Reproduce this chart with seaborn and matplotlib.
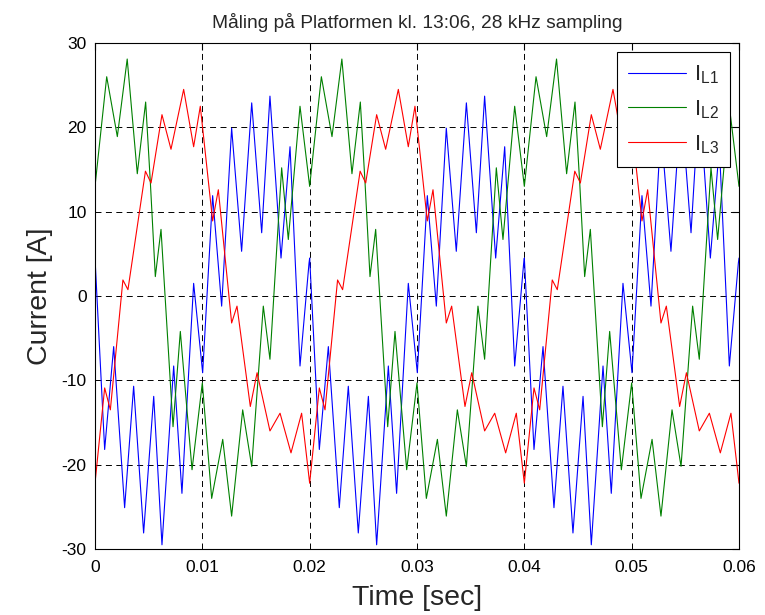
import numpy as np
import pandas as pd
import matplotlib
matplotlib.use("Agg")
import matplotlib.pyplot as plt
import seaborn as sns

# One fundamental cycle (20 ms): (time in ms, current in A)
t_L1 = [0.0, 0.9, 1.74, 2.76, 3.6, 4.53, 5.47, 6.24, 7.33, 8.1, 9.19, 10.03, 10.96,
        11.8, 12.73, 13.66, 14.6, 15.53, 16.3, 17.33, 18.17, 19.1, 19.94]
i_L1 = [4.5, -18.2, -6.0, -25.1, -10.7, -28.1, -11.9, -29.5, -8.3, -23.4, 1.5, -9.1, 11.9,
        -1.2, 19.9, 5.3, 22.9, 7.5, 23.7, 4.5, 17.7, -8.3, 3.9]
t_L2 = [0.0, 1.09, 2.08, 3.0, 3.94, 4.72, 5.16, 5.62, 6.15, 7.27, 7.95, 9.04, 10.0,
        10.87, 11.9, 12.73, 13.76, 14.6, 15.68, 16.3, 17.39, 18.01, 19.1]
i_L2 = [13.0, 26.0, 18.9, 28.1, 14.5, 23.0, 13.4, 2.3, 7.9, -15.5, -4.2, -20.6, -10.3,
        -24.0, -17.0, -26.1, -13.5, -20.2, -1.2, -7.5, 15.2, 6.7, 22.5]
t_L3 = [0.0, 0.9, 1.43, 2.6, 3.07, 4.7, 5.22, 6.24, 7.08, 8.26, 9.19, 9.81, 10.96,
        11.49, 12.73, 13.23, 14.47, 15.1, 16.3, 17.24, 18.26, 19.25]
i_L3 = [-22.2, -10.9, -13.5, 1.9, 0.75, 14.8, 13.4, 21.5, 17.4, 24.5, 17.7, 22.5, 8.9,
        12.6, -3.2, -1.2, -13.1, -9.1, -16.0, -13.9, -18.6, -13.9]
cycles_ms = [0.0, 20.0, 40.0]
end_ms = 60.0

series = {r"$\mathregular{I_{L1}}$": (t_L1, i_L1),
          r"$\mathregular{I_{L2}}$": (t_L2, i_L2),
          r"$\mathregular{I_{L3}}$": (t_L3, i_L3)}
colors = ["#0000ff", "#008000", "#ff0000"]

rows = []
for name, (tt, ii) in series.items():
    for c in cycles_ms:
        for t, v in zip(tt, ii):
            rows.append((name, (t + c) / 1000.0, v))
    rows.append((name, end_ms / 1000.0, ii[0]))
df = pd.DataFrame(rows, columns=["phase", "t", "i"])

sns.set_style("white")
plt.rcParams["font.family"] = ["Liberation Sans", "DejaVu Sans"]
plt.rcParams["mathtext.fontset"] = "custom"
plt.rcParams["mathtext.rm"] = "Liberation Sans"
plt.rcParams["axes.unicode_minus"] = False
plt.rcParams["lines.scale_dashes"] = False

fig = plt.figure(figsize=(7.65, 6.15), dpi=100)
ax = fig.add_axes([95 / 765, 66 / 615, 644 / 765, 506 / 615])

sns.lineplot(data=df, x="t", y="i", hue="phase", palette=colors, sort=False,
             estimator=None, linewidth=0.8, ax=ax)

ax.set_xlim(0, 0.06)
ax.set_ylim(-30, 30)
ax.set_xticks([0, 0.01, 0.02, 0.03, 0.04, 0.05, 0.06])
ax.set_xticklabels(["0", "0.01", "0.02", "0.03", "0.04", "0.05", "0.06"])
ax.set_yticks([-30, -20, -10, 0, 10, 20, 30])
ax.grid(True, color="black", linestyle=(0, (4.3, 3.2)), linewidth=0.7)
ax.tick_params(direction="in", length=5, width=0.8, labelsize=12.5, colors="black",
               top=True, right=True)
ax.tick_params(axis="x", pad=8)
ax.tick_params(axis="y", pad=6)
for s in ax.spines.values():
    s.set_color("black")
    s.set_linewidth(0.8)

ax.set_xlabel("Time [sec]", fontsize=20.5, labelpad=7)
ax.set_ylabel("Current [A]", fontsize=20.5, labelpad=6)
ax.set_title("Måling på Platformen kl. 13:06, 28 kHz sampling", fontsize=13.8, pad=11)

leg = ax.legend(loc="upper right", fontsize=16, frameon=True, fancybox=False,
                edgecolor="black", framealpha=1, handlelength=2.6, handletextpad=0.35,
                labelspacing=0.55, borderaxespad=0.42, borderpad=0.5, title=None)
leg.get_frame().set_linewidth(0.8)

fig.savefig("out.png", dpi=100)
